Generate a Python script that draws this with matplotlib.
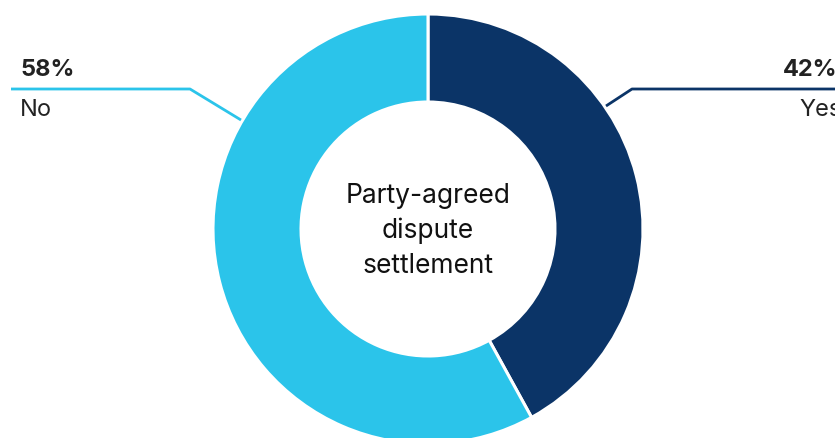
import matplotlib.pyplot as plt

labels = ['Yes', 'No']
shares = [42, 58]
colors = ['#0b3467', '#2bc4ea']
center_title = 'Party-agreed\ndispute\nsettlement'

W, H = 835, 439
fig = plt.figure(figsize=(W / 100, H / 100), dpi=100)
ax = fig.add_axes([0, 0, 1, 1])

cx, cy = 428, H - 230
ax.pie(shares, colors=colors, startangle=90, counterclock=False,
       center=(cx, cy), radius=215, frame=True,
       wedgeprops=dict(width=88, edgecolor='white', linewidth=2.2))
ax.set_xlim(0, W)
ax.set_ylim(0, H)
ax.set_aspect('equal')
ax.axis('off')

font = 'Inter'
ink = '#222222'

ax.text(cx, cy - 1, center_title, ha='center', va='center',
        fontsize=19, family=font, color='#111111', linespacing=1.42)

# leader lines: (x, y) in pixel rows from the top
def leader(pts, color):
    xs = [p[0] for p in pts]
    ys = [H - p[1] for p in pts]
    ax.plot(xs, ys, color=color, lw=2, solid_capstyle='butt', clip_on=False)

leader([(11, 90), (190, 90), (241, 121)], colors[1])
leader([(835, 90), (632, 90), (606, 107)], colors[0])

ax.text(20, H - 70, f'{shares[1]}%', ha='left', va='center',
        fontsize=17, fontweight='bold', family=font, color=ink)
ax.text(20, H - 110, labels[1], ha='left', va='center',
        fontsize=17, family=font, color=ink)
ax.text(783, H - 70, f'{shares[0]}%', ha='left', va='center',
        fontsize=17, fontweight='bold', family=font, color=ink)
ax.text(799, H - 110, labels[0], ha='left', va='center',
        fontsize=17, family=font, color=ink)

fig.savefig('out.png', dpi=100)
